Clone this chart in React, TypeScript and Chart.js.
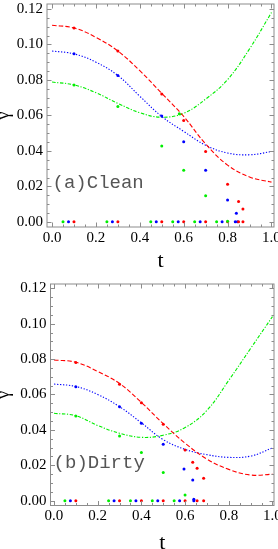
import React, { useEffect, useRef } from "react";
import { Chart, registerables } from "chart.js";

Chart.register(...registerables);

// ---------- data ----------
const curveT = [0, 0.1, 0.2, 0.3, 0.4, 0.5, 0.6, 0.7, 0.8, 0.9, 1.0];
const xTickValues = [0, 0.2, 0.4, 0.6, 0.8, 1.0];
const yTickValues = [0, 0.02, 0.04, 0.06, 0.08, 0.1, 0.12];

// (a) Clean
const cleanRedCurve = [0.1108, 0.1093, 0.104, 0.0963, 0.0852, 0.0724, 0.0594, 0.0439, 0.032, 0.0253, 0.0224];
const cleanBlueCurve = [0.0963, 0.0947, 0.09, 0.0825, 0.0708, 0.0594, 0.051, 0.0432, 0.0388, 0.0378, 0.0396];
const cleanGreenCurve = [0.0788, 0.0772, 0.0728, 0.0668, 0.0615, 0.059, 0.0612, 0.0692, 0.0802, 0.0975, 0.118];
const cleanRedDotT = [0.1, 0.3, 0.5, 0.6, 0.7, 0.8, 0.85, 0.87];
const cleanRedDotV = [0.1093, 0.0963, 0.072, 0.0572, 0.0396, 0.0212, 0.0115, 0.0073];
const cleanRedZeroT = [0.1, 0.3, 0.5, 0.6, 0.7, 0.8, 0.85, 0.87];
const cleanBlueDotT = [0.1, 0.3, 0.5, 0.6, 0.7, 0.8, 0.84];
const cleanBlueDotV = [0.0947, 0.0825, 0.0596, 0.0452, 0.0291, 0.0123, 0.0049];
const cleanBlueZeroT = [0.075, 0.275, 0.475, 0.575, 0.675, 0.775, 0.835, 0.845];
const cleanGreenDotT = [0.1, 0.3, 0.5, 0.58, 0.6, 0.7, 0.8];
const cleanGreenDotV = [0.0772, 0.065, 0.0428, 0.0609, 0.0291, 0.0147, 0.0004];
const cleanGreenZeroT = [0.05, 0.25, 0.45, 0.55, 0.65, 0.75];

// (b) Dirty
const dirtyRedCurve = [0.0795, 0.0782, 0.073, 0.0662, 0.0555, 0.0435, 0.0325, 0.0235, 0.0177, 0.0145, 0.015];
const dirtyBlueCurve = [0.0659, 0.0645, 0.06, 0.0531, 0.044, 0.0345, 0.029, 0.026, 0.0245, 0.0252, 0.0298];
const dirtyGreenCurve = [0.0494, 0.048, 0.0425, 0.0381, 0.0358, 0.037, 0.0413, 0.051, 0.068, 0.086, 0.104];
const dirtyRedDotT = [0.1, 0.3, 0.4, 0.5, 0.6, 0.635, 0.655, 0.685];
const dirtyRedDotV = [0.078, 0.0658, 0.0554, 0.0432, 0.0286, 0.0217, 0.0183, 0.0127];
const dirtyRedZeroT = [0.1, 0.3, 0.4, 0.5, 0.6, 0.655, 0.685];
const dirtyBlueDotT = [0.1, 0.3, 0.4, 0.5, 0.595, 0.635, 0.64];
const dirtyBlueDotV = [0.0644, 0.0531, 0.0437, 0.0319, 0.0179, 0.0117, 0.0008];
const dirtyBlueZeroT = [0.075, 0.275, 0.375, 0.475, 0.575, 0.64];
const dirtyGreenDotT = [0.1, 0.3, 0.4, 0.5, 0.6];
const dirtyGreenDotV = [0.0479, 0.0366, 0.0273, 0.016, 0.0032];
const dirtyGreenZeroT = [0.05, 0.25, 0.35, 0.45, 0.55];

// ---------- styling ----------
const RED = "#ff0000";
const BLUE = "#0000ff";
const GREEN = "#00ee00";
const FRAME = "#8c8c8c";

const pts = (t: number[], v: number[]) => t.map((x, i) => ({ x, y: v[i] }));
const zeros = (t: number[]) => t.map((x) => ({ x, y: 0 }));

const lineDs = (v: number[], color: string, dash: number[]) => ({
  data: pts(curveT, v),
  showLine: true,
  pointRadius: 0,
  borderColor: color,
  borderWidth: 1.1,
  borderDash: dash,
  tension: 0.4,
  fill: false,
});
const dotDs = (data: { x: number; y: number }[], color: string) => ({
  data,
  showLine: false,
  pointRadius: 1.5,
  pointBorderWidth: 0,
  pointBackgroundColor: color,
  pointBorderColor: color,
});

const frameTicksPlugin = {
  id: "frameTicks",
  afterDatasetsDraw(chart: any) {
    const { ctx, chartArea: a, scales } = chart;
    const xs = scales.x;
    const ys = scales.y;
    ctx.save();
    ctx.strokeStyle = FRAME;
    ctx.lineWidth = 1;
    ctx.setLineDash([]);
    ctx.strokeRect(a.left, a.top, a.right - a.left, a.bottom - a.top);
    ctx.beginPath();
    for (let i = 0; i <= 20; i++) {
      const v = i / 20;
      const len = i % 4 === 0 ? 4.5 : 2.5;
      const px = Math.round(xs.getPixelForValue(v)) + 0.5;
      ctx.moveTo(px, a.bottom);
      ctx.lineTo(px, a.bottom - len);
      ctx.moveTo(px, a.top);
      ctx.lineTo(px, a.top + len);
    }
    for (let i = 0; i <= 24; i++) {
      const v = i * 0.005;
      const len = i % 4 === 0 ? 4.5 : 2.5;
      const py = Math.round(ys.getPixelForValue(v)) + 0.5;
      ctx.moveTo(a.left, py);
      ctx.lineTo(a.left + len, py);
      ctx.moveTo(a.right, py);
      ctx.lineTo(a.right - len, py);
    }
    ctx.stroke();
    const o = chart.options.plugins.frameTicks;
    ctx.fillStyle = "#555";
    ctx.font = "19px 'Liberation Mono', monospace";
    ctx.textAlign = "center";
    ctx.textBaseline = "middle";
    ctx.fillText(o.text, xs.getPixelForValue(o.x), ys.getPixelForValue(o.y));
    ctx.restore();
  },
};

type PanelCfg = {
  curves: [number[], number[], number[]];
  dots: { x: number; y: number }[][];
  xMin: number;
  xMax: number;
  yMin: number;
  yMax: number;
  yAxisWidth: number;
  xAxisHeight: number;
  padTop: number;
  titlePad: number;
  label: string;
  labelX: number;
  labelY: number;
  height: number;
};

function Panel({ cfg }: { cfg: PanelCfg }) {
  const ref = useRef<HTMLCanvasElement>(null);
  useEffect(() => {
    const [r, b, g] = cfg.curves;
    const chart = new Chart(ref.current!, {
      type: "scatter",
      data: {
        datasets: [
          dotDs(cfg.dots[0], RED),
          dotDs(cfg.dots[1], BLUE),
          dotDs(cfg.dots[2], GREEN),
          dotDs(cfg.dots[3], RED),
          dotDs(cfg.dots[4], BLUE),
          dotDs(cfg.dots[5], GREEN),
          lineDs(r, RED, [4.5, 2.2]),
          lineDs(b, BLUE, [1.3, 1.7]),
          lineDs(g, GREEN, [3.5, 1.6, 1.2, 1.6]),
        ] as any,
      },
      options: {
        animation: false,
        responsive: false,
        devicePixelRatio: 1,
        layout: { padding: { top: cfg.padTop, left: 0, right: 0, bottom: 0 } },
        plugins: {
          legend: { display: false },
          tooltip: { enabled: false },
          frameTicks: { text: cfg.label, x: cfg.labelX, y: cfg.labelY },
        } as any,
        scales: {
          x: {
            type: "linear",
            min: cfg.xMin,
            max: cfg.xMax,
            grid: { display: false, drawTicks: false },
            border: { display: false },
            afterBuildTicks: (s: any) => {
              s.ticks = xTickValues.map((value) => ({ value }));
            },
            afterFit: (s: any) => {
              s.height = cfg.xAxisHeight;
              s.paddingLeft = 0;
              s.paddingRight = 0;
            },
            ticks: {
              autoSkip: false,
              maxRotation: 0,
              padding: 2,
              color: "#000",
              font: { family: "'Liberation Serif', serif", size: 15 },
              callback: (v: any) => Number(v).toFixed(1),
            },
            title: {
              display: true,
              text: "t",
              color: "#000",
              font: { family: "'Liberation Serif', serif", size: 22, lineHeight: 0.5 },
              padding: { top: 0, bottom: cfg.titlePad },
            },
          },
          y: {
            type: "linear",
            min: cfg.yMin,
            max: cfg.yMax,
            grid: { display: false, drawTicks: false },
            border: { display: false },
            afterBuildTicks: (s: any) => {
              s.ticks = yTickValues.map((value) => ({ value }));
            },
            afterFit: (s: any) => {
              s.width = cfg.yAxisWidth;
              s.paddingTop = 0;
              s.paddingBottom = 0;
            },
            ticks: {
              autoSkip: false,
              padding: 4,
              color: "#000",
              font: { family: "'Liberation Serif', serif", size: 15 },
              callback: (v: any) => Number(v).toFixed(2),
            },
            title: {
              display: true,
              text: "γ",
              color: "#000",
              font: { family: "'Liberation Serif', serif", size: 18, lineHeight: 0.4 },
              padding: { top: 1, bottom: 0 },
            },
          },
        },
      },
      plugins: [frameTicksPlugin],
    } as any);
    return () => chart.destroy();
  }, []);
  return (
    <canvas
      ref={ref}
      width={278}
      height={cfg.height}
      style={{ display: "block", width: 278, height: cfg.height }}
    />
  );
}

const cleanCfg: PanelCfg = {
  curves: [cleanRedCurve, cleanBlueCurve, cleanGreenCurve],
  dots: [
    pts(cleanRedDotT, cleanRedDotV),
    pts(cleanBlueDotT, cleanBlueDotV),
    pts(cleanGreenDotT, cleanGreenDotV),
    zeros(cleanRedZeroT),
    zeros(cleanBlueZeroT),
    zeros(cleanGreenZeroT),
  ],
  xMin: -0.023,
  xMax: 1.0115,
  yMin: -0.0029,
  yMax: 0.1228,
  yAxisWidth: 47,
  xAxisHeight: 48,
  padTop: 0.5,
  titlePad: 8.5,
  label: "(a)Clean",
  labelX: 0.21,
  labelY: 0.022,
  height: 275,
};

const dirtyCfg: PanelCfg = {
  curves: [dirtyRedCurve, dirtyBlueCurve, dirtyGreenCurve],
  dots: [
    pts(dirtyRedDotT, dirtyRedDotV),
    pts(dirtyBlueDotT, dirtyBlueDotV),
    pts(dirtyGreenDotT, dirtyGreenDotV),
    zeros(dirtyRedZeroT),
    zeros(dirtyBlueZeroT),
    zeros(dirtyGreenZeroT),
  ],
  xMin: -0.016,
  xMax: 1.007,
  yMin: -0.0027,
  yMax: 0.1224,
  yAxisWidth: 50.5,
  xAxisHeight: 43.5,
  padTop: 9,
  titlePad: 0,
  label: "(b)Dirty",
  labelX: 0.207,
  labelY: 0.0216,
  height: 274,
};

export default function App() {
  return (
    <div style={{ position: "absolute", left: 0, top: 0, width: 278, background: "#fff" }}>
      <Panel cfg={cleanCfg} />
      <Panel cfg={dirtyCfg} />
    </div>
  );
}
